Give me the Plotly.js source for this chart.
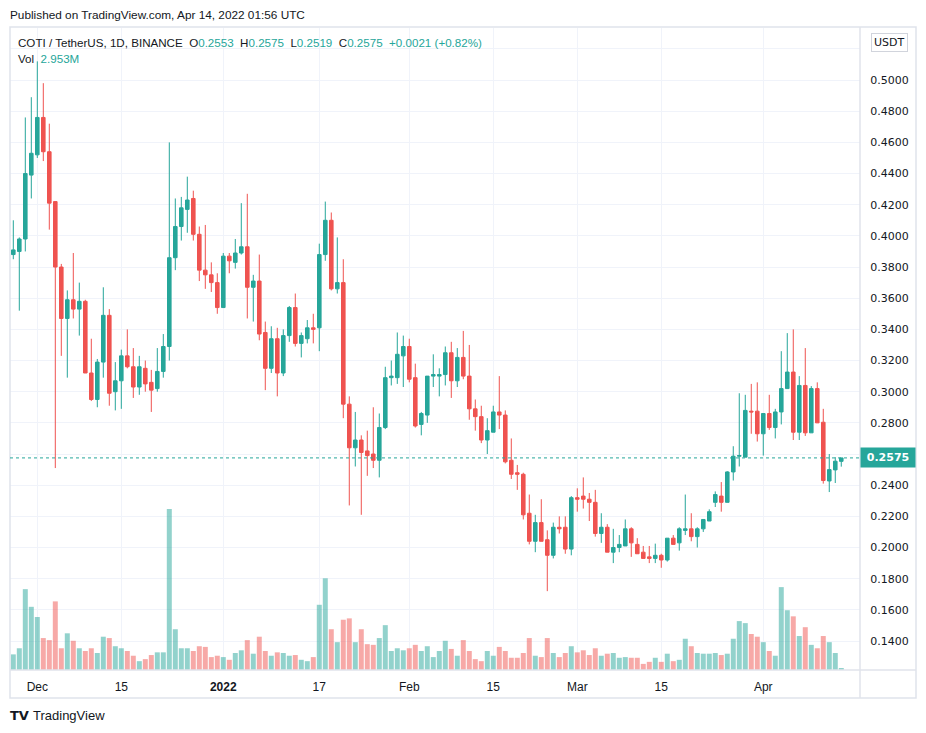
<!DOCTYPE html>
<html>
<head>
<meta charset="utf-8">
<script src="https://cdn.plot.ly/plotly-3.0.1.min.js"></script>
<style>
  html, body { margin: 0; padding: 0; background: #ffffff; }
  #chart { width: 926px; height: 733px; }
</style>
</head>
<body>
<div id="chart"></div>
<script>
// ---- Data (COTI / USDT, 1D, Binance) : Nov 27 2021 .. Apr 14 2022 ----
const startDate = '2021-11-27';

const openP = [
0.388,0.390,0.398,0.439,0.452,0.476,0.454,0.422,0.380,0.347,
0.359,0.353,0.358,0.312,0.295,0.319,0.349,0.300,0.307,0.323,
0.316,0.303,0.315,0.306,0.302,0.313,0.329,0.386,0.406,0.417,
0.424,0.401,0.378,0.375,0.370,0.354,0.387,0.383,0.389,0.393,
0.367,0.371,0.338,0.315,0.334,0.312,0.336,0.354,0.331,0.334,
0.341,0.341,0.388,0.410,0.366,0.370,0.292,0.264,0.269,0.262,
0.260,0.256,0.277,0.309,0.309,0.323,0.329,0.309,0.279,0.285,
0.310,0.310,0.311,0.325,0.307,0.322,0.310,0.289,0.284,0.269,
0.274,0.287,0.285,0.256,0.248,0.247,0.222,0.204,0.216,0.205,
0.195,0.213,0.213,0.199,0.232,0.233,0.231,0.229,0.209,0.213,
0.197,0.200,0.201,0.212,0.202,0.197,0.194,0.193,0.195,0.192,
0.206,0.203,0.211,0.212,0.207,0.212,0.217,0.229,0.233,0.229,
0.2485,0.2586,0.258,0.2875,0.2875,0.273,0.286,0.277,0.287,0.302,
0.3126,0.274,0.304,0.2736,0.302,0.2804,0.2427,0.2498,0.2553];

const highP = [
0.410,0.399,0.476,0.489,0.512,0.498,0.472,0.422,0.382,0.365,
0.389,0.370,0.359,0.334,0.321,0.367,0.353,0.319,0.327,0.340,
0.328,0.323,0.320,0.314,0.328,0.337,0.460,0.424,0.425,0.438,
0.429,0.406,0.407,0.383,0.376,0.389,0.389,0.398,0.421,0.427,
0.375,0.388,0.345,0.342,0.341,0.340,0.355,0.363,0.338,0.346,
0.350,0.395,0.422,0.415,0.399,0.385,0.297,0.287,0.272,0.275,
0.290,0.286,0.316,0.320,0.338,0.336,0.334,0.318,0.287,0.310,
0.324,0.315,0.329,0.332,0.328,0.339,0.330,0.295,0.291,0.283,
0.291,0.310,0.288,0.270,0.253,0.248,0.234,0.221,0.231,0.211,
0.216,0.220,0.220,0.233,0.238,0.245,0.235,0.237,0.222,0.215,
0.212,0.208,0.218,0.213,0.206,0.201,0.201,0.2025,0.196,0.206,
0.208,0.213,0.234,0.222,0.213,0.218,0.2245,0.236,0.242,0.249,
0.265,0.299,0.298,0.305,0.306,0.286,0.298,0.289,0.326,0.3376,
0.340,0.310,0.328,0.3036,0.306,0.289,0.260,0.258,0.2575];

const lowP = [
0.385,0.352,0.390,0.424,0.450,0.448,0.404,0.251,0.323,0.309,
0.347,0.336,0.312,0.294,0.290,0.309,0.291,0.288,0.289,0.315,
0.296,0.298,0.300,0.287,0.300,0.309,0.320,0.378,0.397,0.402,
0.397,0.371,0.366,0.364,0.350,0.354,0.376,0.379,0.388,0.347,
0.345,0.333,0.301,0.312,0.297,0.310,0.332,0.329,0.322,0.331,
0.331,0.326,0.384,0.365,0.363,0.283,0.227,0.252,0.221,0.246,
0.251,0.245,0.276,0.304,0.305,0.303,0.306,0.277,0.272,0.280,
0.303,0.297,0.304,0.296,0.303,0.308,0.282,0.275,0.267,0.260,
0.274,0.276,0.254,0.244,0.237,0.218,0.202,0.197,0.204,0.172,
0.193,0.209,0.196,0.195,0.223,0.225,0.217,0.207,0.203,0.197,
0.190,0.197,0.201,0.194,0.196,0.193,0.190,0.190,0.187,0.191,
0.202,0.198,0.208,0.204,0.200,0.210,0.217,0.226,0.223,0.229,
0.243,0.252,0.258,0.273,0.268,0.259,0.2755,0.270,0.279,0.302,
0.269,0.269,0.2716,0.2736,0.280,0.241,0.2356,0.2414,0.2519];

const closeP = [
0.391,0.398,0.440,0.453,0.476,0.454,0.421,0.380,0.347,0.359,
0.353,0.358,0.312,0.295,0.319,0.349,0.299,0.307,0.323,0.316,
0.303,0.316,0.305,0.301,0.313,0.329,0.386,0.406,0.418,0.423,
0.401,0.378,0.375,0.370,0.354,0.387,0.384,0.389,0.393,0.367,
0.371,0.337,0.315,0.334,0.312,0.336,0.354,0.331,0.336,0.341,
0.340,0.388,0.410,0.366,0.370,0.292,0.264,0.269,0.261,0.259,
0.256,0.277,0.309,0.310,0.324,0.329,0.308,0.278,0.286,0.310,
0.311,0.311,0.325,0.307,0.322,0.310,0.289,0.284,0.269,0.275,
0.287,0.285,0.255,0.247,0.247,0.221,0.204,0.216,0.204,0.195,
0.213,0.212,0.199,0.232,0.231,0.231,0.229,0.209,0.213,0.197,
0.200,0.202,0.212,0.203,0.196,0.193,0.193,0.195,0.192,0.206,
0.202,0.212,0.212,0.207,0.212,0.218,0.223,0.234,0.229,0.2485,
0.2586,0.259,0.288,0.287,0.273,0.286,0.277,0.287,0.302,0.3126,
0.274,0.304,0.2736,0.302,0.280,0.243,0.250,0.2554,0.2575];

// volume in millions of COTI
const volumeM = [
23,32,119,93,78,47,44,101,32,54,
43,32,28,32,25,49,47,35,32,28,
21,13,16,22,26,26,237,60,32,32,
28,35,34,19,21,19,15,25,29,44,
24,49,28,21,26,25,21,22,15,13,
19,96,135,60,41,74,76,41,60,38,
37,47,66,28,32,29,32,37,28,35,
19,28,43,31,21,44,28,16,13,28,
21,34,28,18,18,25,47,21,19,47,
25,19,25,35,26,29,22,32,21,24,
25,18,19,18,18,9,12,18,12,24,
13,15,46,35,25,24,24,25,22,24,
46,72,69,53,49,41,28,21,122,88,
79,50,63,37,32,50,41,25,2.953];

const tickDates = ['2021-12-01','2021-12-15','2022-01-01','2022-01-17','2022-02-01','2022-02-15','2022-03-01','2022-03-15','2022-04-01'];
const tickLabels = ['Dec','15','<b>2022</b>','17','Feb','15','Mar','15','Apr'];
const priceTicks = [0.14,0.16,0.18,0.20,0.22,0.24,0.26,0.28,0.30,0.32,0.34,0.36,0.38,0.40,0.42,0.44,0.46,0.48,0.50,0.52];
// labels hidden behind the last-price tag and the currency box
const hiddenPriceTicks = [0.26, 0.52];

// ---- build ----
const UP = '#26a69a', DOWN = '#ef5350';
const dates = [];
{
  const t0 = Date.parse(startDate + 'T00:00:00Z');
  for (let i = 0; i < openP.length; i++) {
    dates.push(new Date(t0 + i * 86400000).toISOString().slice(0, 10));
  }
}
const volColors = closeP.map((c, i) => c >= openP[i] ? 'rgba(38,166,154,0.5)' : 'rgba(239,83,80,0.5)');
const priceTickText = priceTicks.map(v => hiddenPriceTicks.some(h => Math.abs(h - v) < 1e-9) ? '' : v.toFixed(4));

const n = closeP.length;
const lastO = openP[n-1], lastH = highP[n-1], lastL = lowP[n-1], lastC = closeP[n-1];
const chg = lastC - closeP[n-2];
const chgPct = chg / closeP[n-2] * 100;
const sgn = chg >= 0 ? '+' : '';

const traces = [
  {
    type: 'bar', x: dates, y: volumeM, xaxis: 'x', yaxis: 'y',
    marker: { color: volColors, line: { width: 0 } },
    hoverinfo: 'skip'
  },
  {
    type: 'candlestick', x: dates, open: openP, high: highP, low: lowP, close: closeP,
    xaxis: 'x', yaxis: 'y2',
    increasing: { line: { color: UP, width: 1 }, fillcolor: UP },
    decreasing: { line: { color: DOWN, width: 1 }, fillcolor: DOWN },
    whiskerwidth: 0
  }
];

const PW = 850, PH = 642; // plot area px (x:10..860, y:28..670)
const px = v => (v - 10) / PW;
const py = v => (670 - v) / PH;
const dark = '#131722';
const sp = (c, t) => '<span style="color:' + c + '">' + t + '</span>';
const gap = '&nbsp; ';

const header2 = 'COTI / TetherUS, 1D, BINANCE' + gap +
  'O' + sp(UP, lastO.toFixed(4)) + gap +
  'H' + sp(UP, lastH.toFixed(4)) + gap +
  'L' + sp(UP, lastL.toFixed(4)) + gap +
  'C' + sp(UP, lastC.toFixed(4)) + gap +
  sp(UP, sgn + chg.toFixed(4) + ' (' + sgn + chgPct.toFixed(2) + '%)');

const layout = {
  width: 926, height: 733,
  margin: { l: 10, r: 66, t: 28, b: 63 },
  paper_bgcolor: '#ffffff', plot_bgcolor: '#ffffff',
  showlegend: false,
  bargap: 0.17,
  boxgap: 0.15,
  font: { family: 'DejaVu Sans, sans-serif', color: dark },
  xaxis: {
    type: 'date',
    range: ['2021-11-26 10:48', '2022-04-17 02:53'],
    tickmode: 'array', tickvals: tickDates, ticktext: tickLabels,
    showgrid: true, gridcolor: '#f0f3fa', gridwidth: 1,
    ticks: 'outside', ticklen: 6, tickcolor: 'rgba(0,0,0,0)',
    tickfont: { family: 'Liberation Sans, sans-serif', size: 12, color: dark },
    zeroline: false, showline: false,
    rangeslider: { visible: false }, fixedrange: true
  },
  yaxis: {
    range: [0, 945], showgrid: false, showticklabels: false,
    zeroline: false, showline: false, fixedrange: true
  },
  yaxis2: {
    overlaying: 'y', side: 'right',
    range: [0.1214, 0.5334],
    tickmode: 'array', tickvals: priceTicks, ticktext: priceTickText,
    showgrid: true, gridcolor: '#f0f3fa', gridwidth: 1,
    ticks: 'outside', ticklen: 7, tickcolor: 'rgba(0,0,0,0)',
    tickfont: { family: 'DejaVu Sans, sans-serif', size: 11, color: dark },
    zeroline: false, showline: false, fixedrange: true
  },
  shapes: [
    { type: 'rect', xref: 'paper', yref: 'paper', x0: 0, x1: px(916), y0: py(698), y1: py(27),
      line: { color: '#e0e3eb', width: 1.5 }, fillcolor: 'rgba(0,0,0,0)', layer: 'above' },
    { type: 'line', xref: 'paper', yref: 'paper', x0: 1, x1: 1, y0: py(698), y1: py(27),
      line: { color: '#e0e3eb', width: 1.5 }, layer: 'above' },
    { type: 'line', xref: 'paper', yref: 'paper', x0: 0, x1: px(916), y0: 0, y1: 0,
      line: { color: '#e0e3eb', width: 1.5 }, layer: 'above' },
    { type: 'line', xref: 'paper', yref: 'y2', x0: 0, x1: 1, y0: lastC, y1: lastC,
      line: { color: UP, width: 1, dash: 'dot' }, layer: 'above' }
  ],
  annotations: [
    { xref: 'paper', yref: 'paper', x: px(8), y: py(15), xanchor: 'left', yanchor: 'middle',
      showarrow: false, text: 'Published on TradingView.com, Apr 14, 2022 01:56 UTC',
      font: { family: 'Liberation Sans, sans-serif', size: 11.8, color: dark } },
    { xref: 'paper', yref: 'paper', x: px(16), y: py(42), xanchor: 'left', yanchor: 'middle',
      showarrow: false, text: header2,
      font: { family: 'Liberation Sans, sans-serif', size: 11.6, color: dark } },
    { xref: 'paper', yref: 'paper', x: px(16), y: py(59), xanchor: 'left', yanchor: 'middle',
      showarrow: false, text: 'Vol&nbsp; ' + sp(UP, volumeM[n-1].toFixed(3) + 'M'),
      font: { family: 'Liberation Sans, sans-serif', size: 11.6, color: dark } },
    { xref: 'paper', yref: 'paper', x: px(889), y: py(42), xanchor: 'center', yanchor: 'middle',
      showarrow: false, text: 'USDT', bgcolor: '#ffffff', bordercolor: '#d1d4dc', borderwidth: 1, borderpad: 2,
      font: { family: 'DejaVu Sans, sans-serif', size: 11, color: dark } },
    { xref: 'paper', yref: 'y2', x: 1, y: lastC, xanchor: 'left', yanchor: 'middle',
      showarrow: false, text: '<b>' + lastC.toFixed(4) + '</b>', bgcolor: UP, borderpad: 3, width: 48,
      font: { family: 'DejaVu Sans, sans-serif', size: 11, color: '#ffffff' } },
    { xref: 'paper', yref: 'paper', x: px(8), y: py(715), xanchor: 'left', yanchor: 'middle',
      showarrow: false, text: '<b>TV</b>',
      font: { family: 'DejaVu Sans, sans-serif', size: 13, color: dark } },
    { xref: 'paper', yref: 'paper', x: px(31), y: py(715), xanchor: 'left', yanchor: 'middle',
      showarrow: false, text: 'TradingView',
      font: { family: 'Liberation Sans, sans-serif', size: 13, color: dark } }
  ]
};

Plotly.newPlot('chart', traces, layout, { displayModeBar: false, staticPlot: true });
</script>
</body>
</html>
